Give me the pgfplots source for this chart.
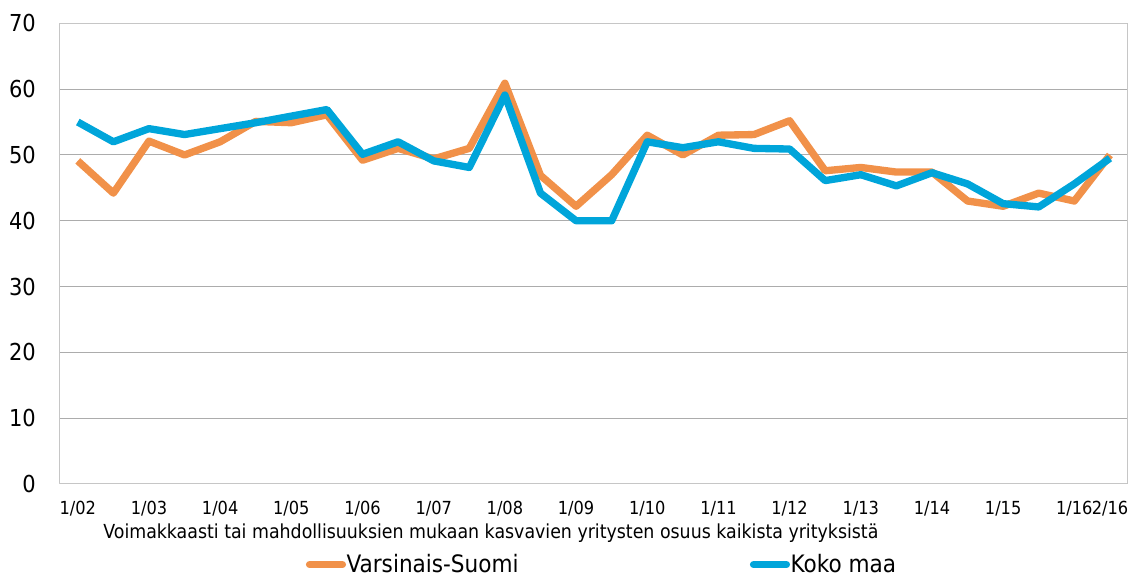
\documentclass[border=0pt]{standalone}
\usepackage{pgfplots}
\pgfplotsset{compat=1.18}
\usepackage{fontspec}
\setmainfont{DejaVu Sans Condensed}
\definecolor{vsorange}{RGB}{241,145,73}
\definecolor{kmblue}{RGB}{0,165,218}
\begin{document}
\begin{tikzpicture}[x=1pt,y=1pt]
\useasboundingbox (-45,-70.5) rectangle (810,363);
\begin{axis}[
  at={(0,0)}, anchor=south west,
  scale only axis, width=800.8pt, height=345.5pt,
  xmin=-0.5, xmax=29.5, ymin=0, ymax=70,
  ytick={0,10,...,70},
  xtick={0,2,4,6,8,10,12,14,16,18,20,22,24,26,28,29},
  xticklabels={1/02,1/03,1/04,1/05,1/06,1/07,1/08,1/09,1/10,1/11,1/12,1/13,1/14,1/15,1/16,2/16},
  major tick length=0pt,
  ymajorgrids,
  grid style={gray!65, line width=0.75pt},
  axis line style={gray!45, line width=0.75pt},
  /pgf/number format/assume math mode=true,
  yticklabel style={font=\fontsize{17.5}{20}\selectfont, anchor=east, inner sep=0pt, xshift=-18pt},
  xticklabel style={font=\fontsize{13.5}{15}\selectfont, anchor=north, inner sep=0pt, yshift=-12.5pt},
  legend style={at={(0.507,-0.175)}, anchor=center, draw=none, fill=none,
    font=\fontsize{18}{20}\selectfont, nodes={inner sep=0.5pt},
    /tikz/every even column/.append style={column sep=173pt}},
  legend columns=2,
  legend image code/.code={\draw[#1, line width=5.3pt, line cap=round] (2.6pt,0pt) -- (27.4pt,0pt);},
  line join=round,
]
\addplot[vsorange, line width=5.5pt] coordinates {
(0,49.1) (1,44.2) (2,52.1) (3,50) (4,52) (5,55.1) (6,54.9) (7,56.1)
(8,49.2) (9,51) (10,49.4) (11,51) (12,60.9) (13,46.9) (14,42.2) (15,47)
(16,53) (17,50) (18,53) (19,53.1) (20,55.2) (21,47.6) (22,48.1) (23,47.4)
(24,47.4) (25,43) (26,42.2) (27,44.2) (28,43) (29,50)};
\addlegendentry{Varsinais-Suomi}
\addplot[kmblue, line width=5.5pt] coordinates {
(0,55) (1,52) (2,54) (3,53.1) (4,54) (5,54.9) (6,55.9) (7,56.9)
(8,50.1) (9,52) (10,49.1) (11,48.1) (12,59.1) (13,44.2) (14,40) (15,40)
(16,52) (17,51.1) (18,52) (19,51) (20,50.9) (21,46.1) (22,47) (23,45.3)
(24,47.3) (25,45.6) (26,42.6) (27,42.1) (28,45.6) (29,49.5)};
\addlegendentry{Koko maa}
\end{axis}
\node[font=\fontsize{14.5}{16}\selectfont] at (323.25,-36.75) {Voimakkaasti tai mahdollisuuksien mukaan kasvavien yritysten osuus kaikista yrityksistä};
\end{tikzpicture}
\end{document}
